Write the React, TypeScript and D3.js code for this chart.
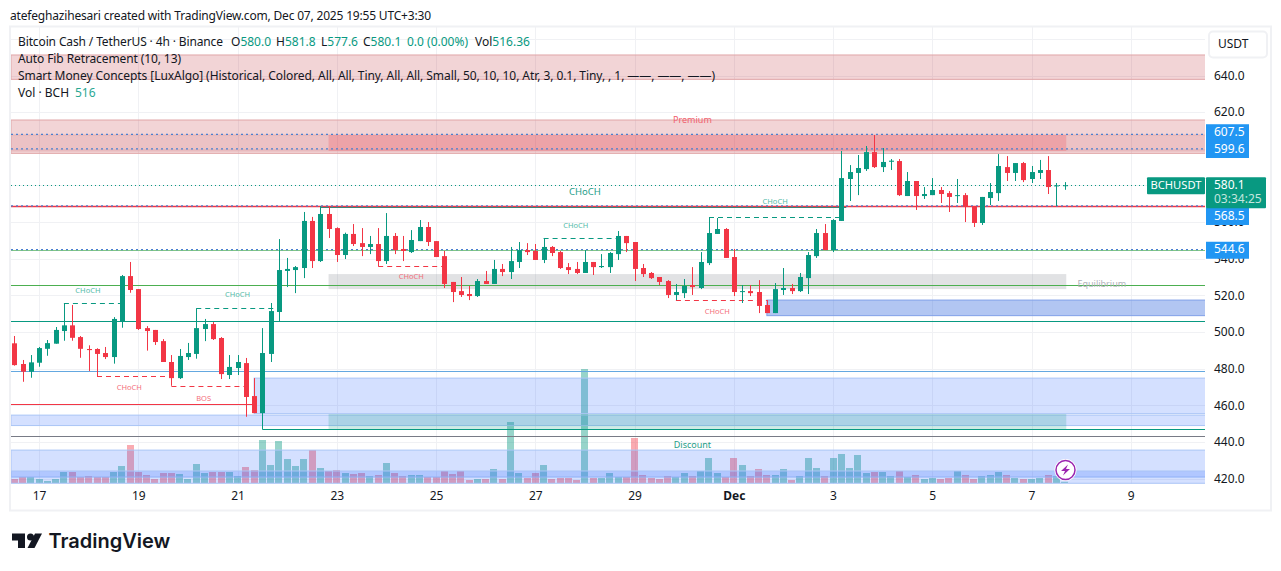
import * as d3 from 'd3';
import * as React from 'react';

// candle values, oldest first (4h bars)
const opens = [
    493.8, 482.5, 478.3, 483.2, 490.8, 493.6, 500.5, 503.6, 497.2, 490.7,
    490.7, 488.5, 486.3, 505.8, 530.5, 523.4, 502.1, 501.1, 495.0, 483.6,
    474.8, 486.3, 488.0, 501.6, 504.3, 496.7, 476.5, 480.3, 483.0, 465.0,
    455.7, 488.0, 510.9, 533.3, 533.8, 534.9, 560.6, 538.7, 564.4, 556.7,
    542.0, 553.5, 548.5, 546.4, 548.0, 538.7, 552.4, 545.3, 543.6, 549.6,
    557.3, 549.6, 541.4, 527.3, 522.3, 520.7, 519.6, 527.8, 526.2, 534.4,
    532.7, 538.2, 544.7, 544.2, 539.3, 546.4, 543.6, 535.4, 534.4, 532.2,
    538.2, 535.4, 535.4, 542.5, 552.4, 549.1, 534.9, 532.2, 530.0, 527.8,
    520.2, 521.2, 525.6, 524.0, 537.6, 553.5, 556.2, 540.9, 521.8, 522.3,
    521.8, 514.7, 510.3, 522.9, 524.0, 522.3, 529.4, 541.4, 554.0, 544.7,
    560.6, 583.5, 586.8, 588.9, 598.2, 590.0, 592.9, 593.3, 574.2, 582.4,
    574.2, 574.7, 577.5, 575.8, 574.2, 574.7, 568.7, 559.5, 573.1, 575.8,
    590.0, 586.8, 592.2, 583.5, 586.8, 588.4, 579.5, 580.0,
];
const highs = [
    497.8, 484.7, 487.4, 491.8, 495.6, 502.7, 515.6, 514.7, 497.8, 492.7,
    491.1, 491.8, 508.1, 531.1, 538.2, 523.4, 503.2, 501.1, 496.1, 487.4,
    490.7, 494.0, 512.9, 507.1, 505.4, 497.2, 487.4, 487.4, 485.8, 474.8,
    502.1, 515.8, 550.7, 540.4, 536.0, 565.5, 562.8, 568.7, 568.7, 557.1,
    554.2, 558.9, 556.7, 552.4, 556.7, 564.9, 554.0, 552.4, 555.6, 561.1,
    560.0, 549.6, 544.2, 527.3, 530.0, 525.1, 528.9, 533.3, 539.3, 537.1,
    546.4, 549.1, 548.5, 548.0, 551.3, 546.9, 544.2, 537.6, 538.2, 544.7,
    538.2, 542.5, 543.6, 555.1, 552.4, 549.1, 537.1, 532.7, 530.0, 528.3,
    526.2, 528.9, 535.4, 543.6, 562.6, 562.2, 556.7, 545.3, 525.6, 525.6,
    528.3, 517.4, 526.7, 534.9, 526.2, 532.2, 543.6, 556.2, 558.9, 561.6,
    598.8, 591.1, 596.6, 601.5, 607.5, 600.4, 594.4, 594.4, 587.3, 582.4,
    579.1, 584.0, 579.1, 576.9, 583.5, 575.8, 568.7, 573.7, 581.3, 597.1,
    596.0, 592.2, 592.8, 590.6, 593.9, 596.0, 581.3, 581.8,
];
const lows = [
    481.6, 472.8, 475.0, 481.0, 487.0, 493.6, 495.2, 495.2, 485.9, 478.7,
    475.8, 485.2, 482.7, 502.3, 521.4, 501.1, 489.8, 492.9, 483.6, 470.6,
    474.3, 484.7, 485.4, 495.0, 495.6, 474.3, 474.3, 476.5, 453.7, 455.7,
    446.8, 483.6, 506.0, 524.5, 521.2, 529.4, 534.9, 538.2, 551.3, 538.2,
    539.8, 546.9, 541.4, 542.5, 536.0, 537.1, 542.5, 538.7, 543.1, 549.6,
    546.9, 540.9, 524.0, 516.3, 519.1, 517.4, 519.1, 526.2, 526.2, 530.5,
    528.9, 534.9, 542.0, 539.3, 537.6, 541.4, 534.4, 531.6, 531.6, 532.2,
    531.1, 534.9, 532.2, 539.3, 543.6, 527.8, 530.0, 528.9, 525.6, 518.5,
    517.4, 518.5, 520.2, 523.4, 536.5, 553.5, 540.4, 519.6, 515.8, 519.6,
    510.3, 510.3, 510.3, 520.2, 520.7, 521.8, 520.7, 540.4, 544.7, 543.6,
    560.6, 571.5, 574.7, 587.9, 589.5, 587.3, 588.4, 574.2, 574.2, 566.6,
    572.6, 574.7, 570.4, 565.5, 570.4, 560.0, 557.3, 558.4, 569.3, 571.5,
    582.4, 582.4, 581.8, 581.3, 583.5, 575.3, 568.7, 577.6,
];
const closes = [
    481.9, 478.3, 483.4, 491.2, 493.9, 501.1, 503.6, 496.8, 490.8, 490.1,
    488.0, 486.3, 507.1, 530.5, 522.9, 501.6, 500.5, 494.5, 483.6, 474.8,
    486.9, 488.5, 502.1, 504.3, 496.1, 477.0, 480.9, 483.6, 464.5, 455.7,
    488.5, 511.4, 533.8, 534.4, 535.4, 560.6, 538.7, 564.4, 556.2, 542.0,
    553.5, 548.0, 546.4, 548.0, 538.7, 552.4, 544.7, 544.2, 550.2, 557.3,
    549.1, 540.9, 526.2, 521.8, 520.2, 519.6, 527.8, 526.2, 534.4, 532.7,
    538.7, 544.7, 543.6, 539.3, 546.4, 543.1, 534.9, 533.8, 532.2, 538.2,
    535.4, 536.0, 543.1, 552.4, 548.5, 534.4, 531.6, 529.4, 527.3, 520.2,
    521.8, 525.1, 524.5, 538.2, 554.0, 556.2, 540.4, 521.8, 522.3, 521.2,
    514.2, 510.3, 523.4, 524.0, 522.3, 530.0, 542.0, 554.0, 544.7, 561.1,
    584.0, 587.3, 589.5, 598.2, 590.0, 592.8, 593.5, 574.7, 582.4, 574.2,
    575.3, 577.5, 575.3, 573.7, 574.7, 568.2, 559.5, 573.7, 576.4, 590.6,
    586.8, 592.2, 582.9, 587.3, 588.4, 579.1, 580.0, 580.1,
];
const volumes = [
    1720, 2580, 2580, 1720, 860, 1720, 4730, 4730, 2580, 3010,
    2580, 2580, 4730, 7310, 16340, 4730, 3440, 1720, 4300, 4300,
    3870, 1720, 8170, 4300, 4730, 4730, 4730, 3010, 6880, 5590,
    18490, 7740, 18060, 10320, 7310, 10320, 14190, 6450, 5160, 5590,
    4300, 3870, 4300, 3010, 3440, 8600, 4300, 3010, 3440, 3440,
    2580, 2580, 5160, 3870, 5160, 1290, 1720, 1720, 6020, 1720,
    26230, 4300, 2150, 4300, 7740, 1720, 2150, 2150, 1290, 49020,
    2150, 2150, 4300, 2580, 2580, 19350, 3440, 2150, 1720, 3010,
    2580, 4300, 3010, 5160, 10750, 4300, 2580, 10750, 7740, 3010,
    6020, 3440, 3440, 6020, 1290, 3010, 10750, 6450, 3010, 10750,
    12470, 6450, 12040, 4300, 4730, 4730, 3010, 5160, 2580, 3440,
    1720, 2150, 1720, 2150, 5160, 3440, 1720, 3010, 3440, 4730,
    3440, 2150, 1720, 1720, 2150, 3440, 3010, 516,
];

const gridPrices = [420, 440, 460, 480, 500, 520, 540, 560, 580, 600, 620, 640, 660];
// 580 and 600 sit fully behind the price tags
const priceTicks = [420, 440, 460, 480, 500, 520, 540, 560, 620, 640];
const timeTickBars = [3, 15, 27, 39, 51, 63, 75, 87, 99, 111, 123, 135];
const timeLabels = ['17', '19', '21', '23', '25', '27', '29', 'Dec', '3', '5', '7', '9'];

// [first bar, last bar, top price, bottom price, fill, stroke]
const firstBar = -0.4;
const lastBar = 144.05;
const sessionEnd = 127.2;
const zones: [number, number, number, number, string, string][] = [
    [firstBar, lastBar, 651.2, 637.9, 'rgba(190,40,50,0.2)', '#e0a6a8'],
    [firstBar, lastBar, 615.7, 597.5, 'rgba(190,40,50,0.2)', '#e0a6a8'],
    [firstBar, lastBar, 607.5, 598.8, 'rgba(190,40,50,0.1)', '#e5b4b7'],
    [38, sessionEnd, 607.5, 598.8, 'rgba(242,54,69,0.22)', 'none'],
    [38, sessionEnd, 531.6, 523.4, 'rgba(120,123,134,0.22)', 'none'],
    [91, lastBar, 517.4, 508.9, 'rgba(41,98,220,0.36)', '#7f9fe8'],
    [29, lastBar, 474.8, 455.4, 'rgba(41,98,255,0.2)', '#a9c5f6'],
    [firstBar, lastBar, 454.6, 448.9, 'rgba(41,98,255,0.2)', '#a9c5f6'],
    [38, sessionEnd, 455.2, 446.8, 'rgba(8,153,129,0.2)', 'none'],
    [firstBar, lastBar, 435.5, 420.8, 'rgba(41,98,255,0.2)', '#a9c5f6'],
    [firstBar, lastBar, 424.1, 417.4, 'rgba(41,98,255,0.2)', '#a9c5f6'],
];

// [first bar, last bar, price, colour, width]
const levels: [number, number, number, string, number][] = [
    [37, 100.6, 568.4, '#089981', 1.2],
    [firstBar, lastBar, 568.7, '#f23645', 1.4],
    [firstBar, lastBar, 544.7, '#81c784', 1.2],
    [firstBar, lastBar, 525.5, '#4caf50', 1],
    [firstBar, lastBar, 505.8, '#089981', 1],
    [firstBar, lastBar, 478.7, '#64a8e0', 1],
    [firstBar, 29, 460.5, '#f23645', 1],
    [30, lastBar, 446.8, '#089981', 1],
    [firstBar, lastBar, 443.0, '#787b86', 1],
];

const fibPrices = [607.5, 599.6, 568.5, 544.6];
const fibChipShift = [-2.3, 0, 10, 0];

// [first bar, last bar, price, colour]
const structureBreaks: [number, number, number, string][] = [
    [6, 13, 515.6, '#089981'],
    [22, 32, 512.9, '#089981'],
    [10, 19, 475.8, '#f23645'],
    [19, 28.5, 470.6, '#f23645'],
    [44, 52, 536.0, '#f23645'],
    [64, 73, 551.3, '#089981'],
    [80, 91, 517.4, '#f23645'],
    [84, 100, 562.6, '#089981'],
];

// [bar position, price, text, colour, size]
const structureLabels: [number, number, string, string, number][] = [
    [8.9, 522.4, 'CHoCH', '#55bba9', 7.5],
    [27, 520, 'CHoCH', '#55bba9', 7.5],
    [13.9, 469.6, 'CHoCH', '#f46f7c', 7.5],
    [22.9, 463.4, 'BOS', '#f46f7c', 7.5],
    [48, 530, 'CHoCH', '#f46f7c', 7.5],
    [67.9, 558, 'CHoCH', '#55bba9', 7.5],
    [85, 511, 'CHoCH', '#f46f7c', 7.5],
    [92, 570.8, 'CHoCH', '#55bba9', 7.5],
    [69, 576, 'CHoCH', '#1f9e89', 9.5],
    [82, 615.6, 'Premium', '#f0606c', 9],
    [82, 438.2, 'Discount', '#1f9e89', 9],
    [131.5, 526.1, 'Equilibrium', '#b0b2ba', 9],
];

const uiFont = "'Noto Sans', sans-serif";

export default function App() {
    const svgRef = React.useRef<SVGSVGElement | null>(null);

    React.useEffect(() => {
        if (!svgRef.current) return;
        const svg = d3.select(svgRef.current);
        svg.selectAll('*').remove();

        const up = '#089981';
        const down = '#f23645';
        const plotLeft = 11;
        const plotRight = 1205;
        const plotTop = 27;
        const plotBottom = 484;

        const x = d3.scaleLinear().domain([0, 127]).range([14.3, 1064.6]);
        const y = d3.scaleLinear().domain([420, 640]).range([478.5, 75.5]);
        const yVolume = d3.scaleLinear().domain([0, 49020]).range([483, 369]);
        const bars = d3.range(opens.length);

        svg.append('rect')
            .attr('width', 1281).attr('height', 571).attr('fill', '#ffffff');

        // frame
        svg.append('rect')
            .attr('x', 10).attr('y', 26.5).attr('width', 1261).attr('height', 484)
            .attr('fill', 'none').attr('stroke', '#f0f1f4').attr('stroke-width', 2);

        svg.append('defs').append('clipPath').attr('id', 'plot')
            .append('rect')
            .attr('x', plotLeft).attr('y', plotTop)
            .attr('width', plotRight - plotLeft).attr('height', plotBottom - plotTop);

        // grid
        const grid = svg.append('g').attr('stroke', '#f0f1f4').attr('stroke-width', 1);
        grid.selectAll('line.h').data(gridPrices).join('line')
            .attr('class', 'h')
            .attr('x1', plotLeft).attr('x2', plotRight)
            .attr('y1', d => Math.round(y(d)) + 0.5).attr('y2', d => Math.round(y(d)) + 0.5);
        grid.selectAll('line.v').data(timeTickBars).join('line')
            .attr('class', 'v')
            .attr('x1', d => Math.round(x(d)) + 0.5).attr('x2', d => Math.round(x(d)) + 0.5)
            .attr('y1', plotTop).attr('y2', plotBottom);

        const plot = svg.append('g').attr('clip-path', 'url(#plot)');

        // volume under the indicator zones
        const volumeWidth = 7;
        plot.append('g').selectAll('rect').data(bars).join('rect')
            .attr('x', d => Math.round(x(d) - volumeWidth / 2))
            .attr('width', volumeWidth)
            .attr('y', d => yVolume(volumes[d]))
            .attr('height', d => yVolume(0) - yVolume(volumes[d]))
            .attr('fill', d => (closes[d] >= opens[d] ? up : down))
            .attr('fill-opacity', 0.42);

        // zones
        plot.append('g').selectAll('rect').data(zones).join('rect')
            .attr('x', d => x(d[0]))
            .attr('width', d => x(d[1]) - x(d[0]))
            .attr('y', d => y(d[2]))
            .attr('height', d => y(d[3]) - y(d[2]))
            .attr('fill', d => d[4])
            .attr('stroke', d => d[5]);

        // horizontal levels
        plot.append('g').selectAll('line').data(levels).join('line')
            .attr('x1', d => x(d[0])).attr('x2', d => x(d[1]))
            .attr('y1', d => Math.round(y(d[2])) + 0.5).attr('y2', d => Math.round(y(d[2])) + 0.5)
            .attr('stroke', d => d[3])
            .attr('stroke-width', d => d[4]);

        // auto fib price lines
        plot.append('g').selectAll('line').data(fibPrices).join('line')
            .attr('x1', plotLeft).attr('x2', plotRight)
            .attr('y1', d => y(d) - 0.7).attr('y2', d => y(d) - 0.7)
            .attr('stroke', '#4a7fd0').attr('stroke-width', 1.3)
            .attr('stroke-dasharray', '2 3');

        // last price line
        plot.append('line')
            .attr('x1', plotLeft).attr('x2', plotRight)
            .attr('y1', Math.round(y(580.1)) + 0.5).attr('y2', Math.round(y(580.1)) + 0.5)
            .attr('stroke', up).attr('stroke-dasharray', '1 3');

        // structure breaks
        plot.append('g').selectAll('line').data(structureBreaks).join('line')
            .attr('x1', d => x(d[0])).attr('x2', d => x(d[1]))
            .attr('y1', d => Math.round(y(d[2])) + 0.5).attr('y2', d => Math.round(y(d[2])) + 0.5)
            .attr('stroke', d => d[3])
            .attr('stroke-dasharray', '5 4');

        // wicks and bodies
        const bodyWidth = 5;
        const color = (d: number) => (closes[d] >= opens[d] ? up : down);
        plot.append('g').selectAll('line').data(bars).join('line')
            .attr('x1', d => Math.round(x(d)) + 0.5).attr('x2', d => Math.round(x(d)) + 0.5)
            .attr('y1', d => y(highs[d])).attr('y2', d => y(lows[d]))
            .attr('stroke', color);
        plot.append('g').selectAll('rect').data(bars).join('rect')
            .attr('x', d => Math.round(x(d)) + 0.5 - bodyWidth / 2)
            .attr('width', bodyWidth)
            .attr('y', d => y(Math.max(opens[d], closes[d])))
            .attr('height', d => Math.max(1, Math.abs(y(opens[d]) - y(closes[d]))))
            .attr('fill', color);

        // labels on the chart
        plot.append('g').selectAll('text').data(structureLabels).join('text')
            .attr('x', d => x(d[0])).attr('y', d => y(d[1]))
            .attr('text-anchor', 'middle').attr('dominant-baseline', 'middle')
            .attr('font-family', uiFont).attr('font-size', d => d[4])
            .attr('fill', d => d[3])
            .text(d => d[2]);

        // price axis
        const priceAxis = svg.append('g')
            .attr('transform', `translate(${plotRight + 9},0)`)
            .call(d3.axisRight(y).tickValues(priceTicks).tickSize(0).tickPadding(0)
                .tickFormat(d3.format('.1f') as any));
        priceAxis.select('.domain').remove();
        priceAxis.selectAll('text')
            .attr('font-family', uiFont).attr('font-size', 12).attr('fill', '#131722');

        // time axis
        const timeAxis = svg.append('g')
            .attr('transform', 'translate(0,484)')
            .call(d3.axisBottom(x).tickValues(timeTickBars).tickSize(0).tickPadding(7)
                .tickFormat((_, i) => timeLabels[i]));
        timeAxis.select('.domain').remove();
        timeAxis.selectAll('text')
            .attr('font-family', uiFont).attr('font-size', 12).attr('fill', '#131722')
            .attr('font-weight', (_, i) => (timeLabels[i] === 'Dec' ? 700 : 400));

        // fib chips on the price axis
        const chips = svg.append('g');
        chips.selectAll('rect').data(fibPrices).join('rect')
            .attr('x', plotRight + 1).attr('width', 43)
            .attr('y', (d, i) => y(d) + fibChipShift[i] - 8.5).attr('height', 17)
            .attr('fill', '#2196f3');
        chips.selectAll('text').data(fibPrices).join('text')
            .attr('x', plotRight + 9).attr('y', (d, i) => y(d) + fibChipShift[i])
            .attr('dominant-baseline', 'middle')
            .attr('font-family', uiFont).attr('font-size', 12).attr('fill', '#ffffff')
            .text(d => d3.format('.1f')(d));

        // last price tag
        const tagY = y(580.1);
        svg.append('rect')
            .attr('x', 1147).attr('y', tagY - 8).attr('width', 58).attr('height', 17)
            .attr('rx', 1).attr('fill', up);
        svg.append('text')
            .attr('x', 1176).attr('y', tagY + 0.5)
            .attr('text-anchor', 'middle').attr('dominant-baseline', 'middle')
            .attr('font-family', uiFont).attr('font-size', 11.2).attr('fill', '#ffffff')
            .text('BCHUSDT');
        svg.append('rect')
            .attr('x', plotRight + 1).attr('y', tagY - 8).attr('width', 60).attr('height', 31)
            .attr('rx', 1).attr('fill', up);
        svg.append('text')
            .attr('x', plotRight + 9).attr('y', tagY + 0.5)
            .attr('dominant-baseline', 'middle')
            .attr('font-family', uiFont).attr('font-size', 12).attr('fill', '#ffffff')
            .text('580.1');
        svg.append('text')
            .attr('x', plotRight + 9).attr('y', tagY + 15)
            .attr('dominant-baseline', 'middle')
            .attr('font-family', uiFont).attr('font-size', 12).attr('fill', '#c4e6df')
            .text('03:34:25');

        // currency button
        svg.append('rect')
            .attr('x', 1209).attr('y', 31.5).attr('width', 58).attr('height', 26)
            .attr('rx', 4).attr('fill', '#ffffff').attr('stroke', '#f0f1f4').attr('stroke-width', 2);
        svg.append('text')
            .attr('x', 1218).attr('y', 44.5).attr('dominant-baseline', 'middle')
            .attr('font-family', uiFont).attr('font-size', 12).attr('fill', '#131722')
            .text('USDT');

        // legend
        const legend = svg.append('g')
            .attr('font-family', uiFont).attr('font-size', 12).attr('fill', '#131722');
        const first = legend.append('text').attr('y', 46);
        first.append('tspan').attr('x', 18).attr('textLength', 205)
            .text('Bitcoin Cash / TetherUS · 4h · Binance');
        first.append('tspan').attr('x', 231).text('O');
        first.append('tspan').attr('fill', up).text('580.0');
        first.append('tspan').attr('x', 276).text('H');
        first.append('tspan').attr('fill', up).text('581.8');
        first.append('tspan').attr('x', 321).text('L');
        first.append('tspan').attr('fill', up).text('577.6');
        first.append('tspan').attr('x', 363).text('C');
        first.append('tspan').attr('fill', up).text('580.1');
        first.append('tspan').attr('x', 407).attr('fill', up).text('0.0 (0.00%)');
        first.append('tspan').attr('x', 475).text('Vol');
        first.append('tspan').attr('fill', up).text('516.36');
        legend.append('text').attr('x', 18).attr('y', 63).attr('textLength', 163)
            .text('Auto Fib Retracement (10, 13)');
        legend.append('text').attr('x', 18).attr('y', 80).attr('textLength', 697)
            .text('Smart Money Concepts [LuxAlgo] (Historical, Colored, All, All, Tiny, All, All, Small, 50, 10, 10, Atr, 3, 0.1, Tiny, , 1, ——, ——, ——)');
        const vol = legend.append('text').attr('y', 97);
        vol.append('tspan').attr('x', 18).text('Vol · BCH');
        vol.append('tspan').attr('x', 75).attr('fill', '#2aa893').text('516');

        // header and logo
        svg.append('text')
            .attr('x', 10).attr('y', 19.5).attr('textLength', 421)
            .attr('font-family', uiFont).attr('font-size', 12).attr('fill', '#131722')
            .text('atefeghazihesari created with TradingView.com, Dec 07, 2025 19:55 UTC+3:30');
        const logo = svg.append('g').attr('fill', '#131722');
        logo.append('path').attr('d', 'M12 533.5H25V548H18V540.5H12Z');
        logo.append('circle').attr('cx', 30.5).attr('cy', 537).attr('r', 3.5);
        logo.append('path').attr('d', 'M35 533.5H42L34.5 548H27.5Z');
        logo.append('text')
            .attr('x', 48.5).attr('y', 547.5)
            .attr('font-family', "Inter, sans-serif").attr('font-size', 20).attr('font-weight', 600)
            .text('TradingView');

        // lightning marker
        const bolt = svg.append('g');
        bolt.append('circle').attr('cx', 1065.5).attr('cy', 470).attr('r', 11).attr('fill', '#ffffff');
        bolt.append('circle').attr('cx', 1065.5).attr('cy', 470).attr('r', 9.5)
            .attr('fill', '#ffffff').attr('stroke', '#9c27b0').attr('stroke-width', 1.5);
        bolt.append('path').attr('d', 'M1068 464.5L1061 471H1065L1063 475.5L1070 469H1066Z').attr('fill', '#9c27b0');
    }, []);

    return (
        <svg
            ref={svgRef}
            width={1281}
            height={571}
            style={{ position: 'absolute', left: 0, top: 0, display: 'block' }}
        />
    );
}
